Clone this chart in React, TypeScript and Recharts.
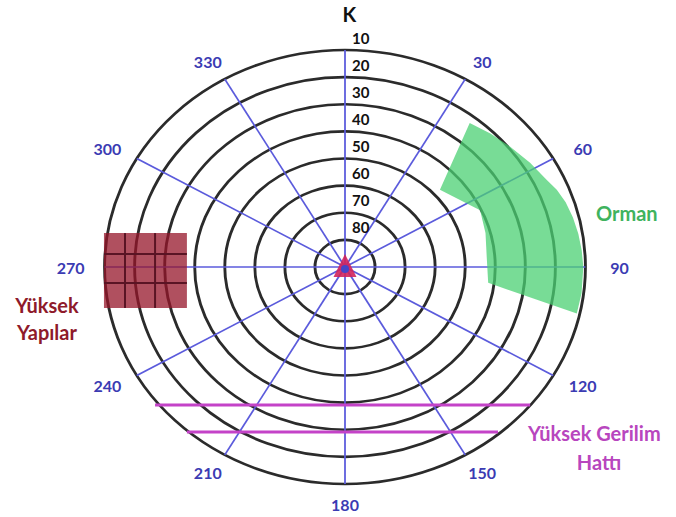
import React from 'react';
import {
  RadarChart,
  PolarGrid,
  PolarAngleAxis,
  PolarRadiusAxis,
  Radar,
  ComposedChart,
  XAxis,
  YAxis,
  ReferenceArea,
  ReferenceLine,
  Scatter,
} from 'recharts';

// ---------- data ----------
const bearings = [0, 30, 60, 90, 120, 150, 180, 210, 240, 270, 300, 330];
const bearingLabels = ['K', '30', '60', '90', '120', '150', '180', '210', '240', '270', '300', '330'];
const elevationRings = [10, 20, 30, 40, 50, 60, 70, 80];

// Orman (forest) outline: bearing (deg) and elevation (deg)
const forestBearing = [38, 44.5, 51, 58, 64.5, 68, 72, 76.5, 81, 85.5, 90, 97, 102.5, 97, 85.5, 75, 65, 48];
const forestElevation = [22.6, 21, 19.4, 17.4, 15.6, 14, 12.8, 12, 11.4, 11, 10.7, 10.7, 11, 42, 42.7, 41.6, 40.4, 47.5];

// Yüksek Yapılar (buildings) block, in plan units (east +, north +)
const buildingX = [-80.2, -52.6];
const buildingY = [-15.1, 12.5];
const buildingGridX = [-73.2, -63.2];
const buildingGridY = [4.8, -5.9];

// Yüksek Gerilim Hattı (power lines)
const powerLineY = [-50.9, -60.8];
const powerLineXStart = [-63.2, -52.6];
const powerLineXEnd = [61.6, 50.9];

const station = [{ x: 0, y: 0 }];

// ---------- layout ----------
const W = 676;
const H = 517;
const CX = 345;
const CY = 267;
const R = 217;
const S = 1.108; // horizontal stretch of the diagram
const XU = (R * S) / 80;
const YU = R / 80;

const forestData = forestBearing.map((b, i) => ({ bearing: b, elev: forestElevation[i] }));

const FONT = 'Lato, "Open Sans", sans-serif';

function AngleTick(props: any) {
  const b = Number(props.payload?.value);
  const i = bearings.indexOf(b);
  const label = i >= 0 ? bearingLabels[i] : String(b);
  const north = b === 0;
  const rad = (b * Math.PI) / 180;
  const rx = (R * S + 34) / S;
  const ry = R + (north ? 36 : 20);
  const x = CX + rx * Math.sin(rad) + (north ? 4 : 0);
  const y = CY - ry * Math.cos(rad);
  return (
    <text
      transform={`translate(${x} ${y}) scale(${1 / S} 1)`}
      textAnchor="middle"
      dominantBaseline="central"
      fontFamily={FONT}
      fontWeight={700}
      fontSize={north ? 20 : 16}
      fill={north ? '#111' : '#3b3bb3'}
    >
      {label}
    </text>
  );
}

function RadiusTick(props: any) {
  const v = Number(props.payload?.value);
  if (!v || !elevationRings.includes(90 - v)) return null;
  const y = CY - (v * R) / 80 - 12.5;
  const x = CX + 7 / S;
  return (
    <text
      transform={`translate(${x} ${y}) scale(${1 / S} 1)`}
      textAnchor="start"
      dominantBaseline="central"
      fontFamily={FONT}
      fontWeight={700}
      fontSize={15}
      fill="#111"
    >
      {90 - v}
    </text>
  );
}

function StationShape(props: any) {
  const { cx, cy } = props;
  return (
    <g>
      <path d={`M${cx},${cy - 13} L${cx + 11.5},${cy + 10} L${cx - 11.5},${cy + 10} Z`} fill="#d0245c" fillOpacity={0.9} />
      <circle cx={cx} cy={cy + 2} r={4} fill="#4545c8" />
    </g>
  );
}

export default function App() {
  return (
    <div style={{ position: 'absolute', left: 0, top: 0, width: W, height: H, background: '#fff' }}>
      <div
        style={{
          position: 'absolute',
          left: 0,
          top: 0,
          width: W,
          height: H,
          transform: `scaleX(${S})`,
          transformOrigin: `${CX}px ${CY}px`,
        }}
      >
        <RadarChart
          width={W}
          height={H}
          cx={CX}
          cy={CY}
          outerRadius={R}
          data={forestData}
          margin={{ top: 0, right: 0, bottom: 0, left: 0 }}
        >
          <PolarGrid gridType="circle" radialLines={false} stroke="#2b2b2b" strokeWidth={2.6} />
          <PolarGrid gridType="circle" polarRadius={[0]} stroke="#5b5bdc" strokeWidth={1.6} />
          <PolarAngleAxis
            dataKey="bearing"
            type="number"
            domain={[0, 360]}
            ticks={bearings}
            tick={AngleTick}
            axisLine={false}
            tickLine={false}
          />
          <PolarRadiusAxis
            angle={90}
            type="number"
            domain={[0, 80]}
            tickCount={9}
            tick={RadiusTick}
            axisLine={false}
            tickLine={false}
          />
          <Radar
            dataKey={(d: any) => 90 - d.elev}
            stroke="none"
            fill="#4bd073"
            fillOpacity={0.75}
            dot={false}
            isAnimationActive={false}
          />
        </RadarChart>
      </div>

      <div style={{ position: 'absolute', left: 0, top: 0, width: W, height: H }}>
        <ComposedChart width={W} height={H} margin={{ top: 0, right: 0, bottom: 0, left: 0 }}>
          <XAxis type="number" dataKey="x" hide domain={[-CX / XU, (W - CX) / XU]} allowDataOverflow />
          <YAxis type="number" dataKey="y" hide domain={[-(H - CY) / YU, CY / YU]} allowDataOverflow />
          <ReferenceArea
            x1={buildingX[0]}
            x2={buildingX[1]}
            y1={buildingY[0]}
            y2={buildingY[1]}
            fill="#961629"
            fillOpacity={0.75}
            stroke="none"
          />
          {buildingGridX.map((x, i) => (
            <ReferenceLine
              key={`bx${i}`}
              segment={[{ x, y: buildingY[0] }, { x, y: buildingY[1] }]}
              stroke="#5a1424"
              strokeWidth={2}
            />
          ))}
          {buildingGridY.map((y, i) => (
            <ReferenceLine
              key={`by${i}`}
              segment={[{ x: buildingX[0], y }, { x: buildingX[1], y }]}
              stroke="#5a1424"
              strokeWidth={2}
            />
          ))}
          {powerLineY.map((y, i) => (
            <ReferenceLine
              key={`pl${i}`}
              segment={[{ x: powerLineXStart[i], y }, { x: powerLineXEnd[i], y }]}
              stroke="#c443c8"
              strokeWidth={3}
            />
          ))}
          <Scatter data={station} dataKey="y" shape={StationShape} isAnimationActive={false} />
        </ComposedChart>
      </div>

      <svg
        width={W}
        height={H}
        style={{ position: 'absolute', left: 0, top: 0, pointerEvents: 'none' }}
        fontFamily={FONT}
        fontWeight={700}
        fontSize={20}
      >
        <text x={596} y={213} dominantBaseline="central" fill="#3fb35e">Orman</text>
        <text x={47} y={305} textAnchor="middle" dominantBaseline="central" fill="#8e1a2a">Yüksek</text>
        <text x={47} y={332} textAnchor="middle" dominantBaseline="central" fill="#8e1a2a">Yapılar</text>
        <text x={528} y={433} dominantBaseline="central" fill="#b846be">Yüksek Gerilim</text>
        <text x={599} y={462} textAnchor="middle" dominantBaseline="central" fill="#b846be">Hattı</text>
      </svg>
    </div>
  );
}
